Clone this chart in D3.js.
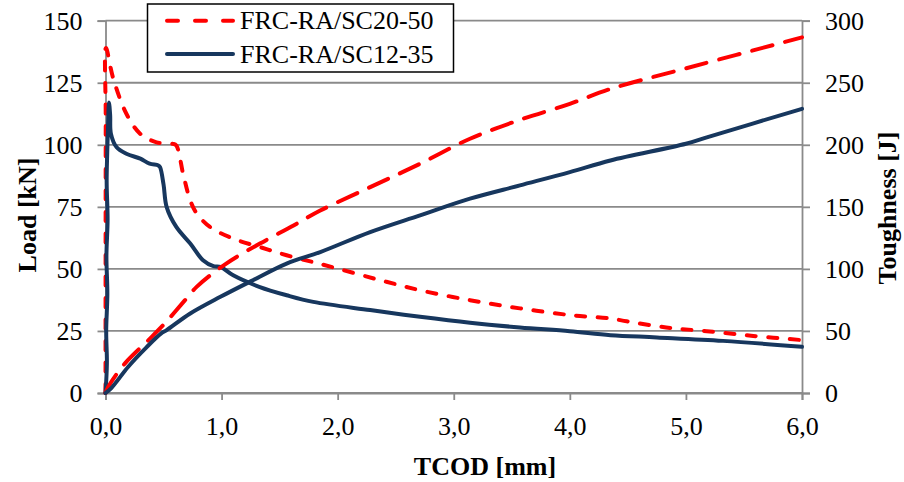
<!DOCTYPE html>
<html><head><meta charset="utf-8">
<script src="https://cdn.jsdelivr.net/npm/d3@7"></script>
<style>body{margin:0;background:#fff}svg{display:block}</style>
</head><body>
<svg id="c" width="904" height="482"></svg>
<script>
// ---- data ----
const seriesNames = ["FRC-RA/SC20-50", "FRC-RA/SC12-35"];
const xTicks = [0, 1, 2, 3, 4, 5, 6];
const loadTicks = [0, 25, 50, 75, 100, 125, 150];
const toughTicks = [0, 50, 100, 150, 200, 250, 300];

// Load [kN] vs TCOD [mm] - FRC-RA/SC20-50
const loadA_x = [0, 0.002, 0.004, 0.065, 0.18, 0.30, 0.44, 0.58, 0.61, 0.67, 0.73, 0.785, 0.90, 1.10, 1.33, 1.56, 1.85, 2.42, 2.71, 3.14, 3.57, 4.0, 4.35, 4.49, 4.83, 5.18, 5.58, 6.0];
const loadA_y = [0, 110, 139, 127, 112.5, 104.4, 101, 100.4, 99.7, 88, 77.6, 72.4, 66.9, 62.2, 58.8, 55.5, 52, 44.8, 41.4, 37.4, 34.1, 31.4, 30, 28.9, 26.4, 24.9, 23, 21.3];
// Load [kN] vs TCOD [mm] - FRC-RA/SC12-35
const loadB_x = [0, 0.012, 0.006, 0.016, 0.008, 0.018, 0.010, 0.015, 0.022, 0.030, 0.040, 0.047, 0.096, 0.18, 0.30, 0.38, 0.455, 0.47, 0.50, 0.527, 0.61, 0.73, 0.84, 0.93, 0.99, 1.10, 1.33, 1.56, 1.79, 2.28, 2.71, 3.14, 3.57, 4.0, 4.35, 4.75, 5.32, 6.0];
const loadB_y = [0, 12, 25, 40, 55, 70, 85, 97, 108, 117, 112, 104.4, 99, 96.4, 94.4, 92.4, 91.7, 91, 84, 74.9, 66.9, 60.2, 53.5, 51.1, 50.8, 47.4, 42.7, 39.4, 36.7, 33.4, 30.7, 28.3, 26.4, 24.9, 23.3, 22.4, 21, 18.6];
// Toughness [J] vs TCOD [mm] - FRC-RA/SC20-50
const toughA_x = [0, 0.024, 0.168, 0.37, 0.51, 0.685, 0.785, 1.04, 1.33, 1.62, 1.85, 2.28, 2.71, 3.14, 3.57, 4.0, 4.35, 5.0, 6.0];
const toughA_y = [0, 5, 23.9, 42.6, 56, 74.8, 85.5, 104.3, 120.4, 135, 147, 165.9, 184.7, 204.9, 220.1, 233, 245, 261.6, 286.6];
// Toughness [J] vs TCOD [mm] - FRC-RA/SC12-35
const toughB_x = [0, 0.05, 0.196, 0.355, 0.48, 0.527, 0.73, 0.99, 1.27, 1.56, 1.85, 2.28, 2.71, 3.14, 3.57, 4.0, 4.35, 5.0, 5.18, 6.0];
const toughB_y = [0, 4, 21.2, 37, 48, 50.7, 64.1, 77.5, 90.9, 104.3, 113.6, 129.7, 143.2, 156.6, 167.3, 178, 187.4, 200.8, 206, 229];

// ---- layout ----
const svg = d3.select("#c");
const L = 105.5, R = 802, T = 20.7, B = 393;
const x = d3.scaleLinear().domain([0, 6]).range([L, R]);
const yL = d3.scaleLinear().domain([0, 150]).range([B, T]);
const yR = d3.scaleLinear().domain([0, 300]).range([B, T]);
const gridCol = "#8a8a8a";
const font = "'Liberation Serif','Times New Roman',serif";
const red = "#ff0000", navy = "#17375e";

// gridlines
svg.append("g").selectAll("line").data(loadTicks).join("line")
  .attr("x1", L).attr("x2", R).attr("y1", d => yL(d)).attr("y2", d => yL(d))
  .attr("stroke", gridCol).attr("stroke-width", 1.8);

// axes
const fmtX = d => d.toFixed(1).replace(".", ",");
const ax = svg.append("g").attr("transform", `translate(0,${B})`)
  .call(d3.axisBottom(x).tickValues(xTicks).tickFormat(fmtX).tickSize(7).tickPadding(10));
const ayl = svg.append("g").attr("transform", `translate(${L},0)`)
  .call(d3.axisLeft(yL).tickValues(loadTicks).tickSize(8).tickPadding(15));
const ayr = svg.append("g").attr("transform", `translate(${R},0)`)
  .call(d3.axisRight(yR).tickValues(toughTicks).tickSize(8).tickPadding(15));
[ax, ayl, ayr].forEach(g => {
  g.select(".domain").attr("stroke", gridCol).attr("stroke-width", 1.8);
  g.selectAll(".tick line").attr("stroke", gridCol).attr("stroke-width", 1.8);
  g.selectAll(".tick text").attr("font-family", font).attr("font-size", 26).attr("fill", "#000");
});
ax.selectAll(".tick text").attr("dy", "0.95em");
ayl.selectAll(".tick text").attr("dy", "0.33em");
ayr.selectAll(".tick text").attr("dy", "0.33em");

// series
svg.append("defs").append("clipPath").attr("id", "pa")
  .append("rect").attr("x", L - 3).attr("y", T - 10).attr("width", R - L + 6).attr("height", B - T + 14);
const plot = svg.append("g").attr("clip-path", "url(#pa)");
const mk = (xs, ys, ysc) => xs.map((v, i) => [x(v), ysc(ys[i])]);
const smooth = d3.line().curve(d3.curveCatmullRom.alpha(0.5));

function draw(pts, color, dash) {
  plot.append("path").attr("d", smooth(pts)).attr("fill", "none")
    .attr("stroke", color).attr("stroke-width", 4)
    .attr("stroke-linecap", "round").attr("stroke-linejoin", "round")
    .attr("stroke-dasharray", dash);
}
draw(mk(loadA_x, loadA_y, yL), red, "9,12.5");
draw(mk(loadB_x, loadB_y, yL), navy, null);
draw(mk(toughA_x, toughA_y, yR), red, "21,13");
draw(mk(toughB_x, toughB_y, yR), navy, null);

// axis titles
svg.append("text").attr("x", 485).attr("y", 475).attr("text-anchor", "middle")
  .attr("font-family", font).attr("font-size", 26).attr("font-weight", "bold").text("TCOD [mm]");
svg.append("text").attr("transform", "translate(36,215) rotate(-90)").attr("text-anchor", "middle")
  .attr("font-family", font).attr("font-size", 26).attr("font-weight", "bold").text("Load [kN]");
svg.append("text").attr("transform", "translate(896,208) rotate(-90)").attr("text-anchor", "middle")
  .attr("font-family", font).attr("font-size", 26).attr("font-weight", "bold").text("Toughness [J]");

// legend
const lg = svg.append("g");
lg.append("rect").attr("x", 147.5).attr("y", 4).attr("width", 306).attr("height", 68)
  .attr("fill", "#fff").attr("stroke", "#000").attr("stroke-width", 1.5);
const legStyles = [{c: red, d: "11,17"}, {c: navy, d: null}];
seriesNames.forEach((n, i) => {
  const yy = [20.7, 54][i];
  lg.append("line").attr("x1", 167).attr("x2", 233).attr("y1", yy).attr("y2", yy)
    .attr("stroke", legStyles[i].c).attr("stroke-width", 4).attr("stroke-linecap", "round")
    .attr("stroke-dasharray", legStyles[i].d);
  lg.append("text").attr("x", 240).attr("y", yy + 8.5).attr("font-family", font)
    .attr("font-size", 26).attr("fill", "#000").text(n);
});
</script>
</body></html>
